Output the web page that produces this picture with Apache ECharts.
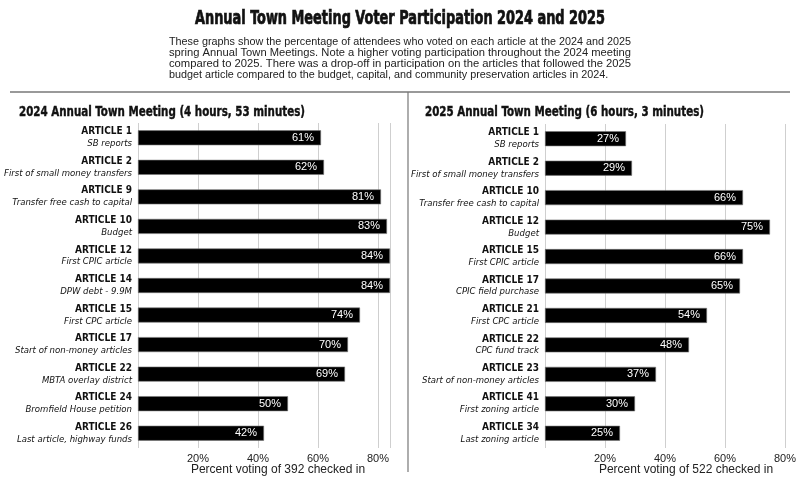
<!DOCTYPE html>
<html>
<head>
<meta charset="utf-8">
<script src="https://cdn.jsdelivr.net/npm/echarts@6/dist/echarts.min.js"></script>
<style>
  html, body { margin: 0; padding: 0; background: #fff; }
  #main { width: 800px; height: 480px; }
</style>
</head>
<body>
<div id="main"></div>
<script>
// 2024 meeting
var articles2024 = ['ARTICLE 1', 'ARTICLE 2', 'ARTICLE 9', 'ARTICLE 10', 'ARTICLE 12', 'ARTICLE 14', 'ARTICLE 15', 'ARTICLE 17', 'ARTICLE 22', 'ARTICLE 24', 'ARTICLE 26'];
var notes2024 = ['SB reports', 'First of small money transfers', 'Transfer free cash to capital', 'Budget', 'First CPIC article', 'DPW debt - 9.9M', 'First CPC article', 'Start of non-money articles', 'MBTA overlay district', 'Bromfield House petition', 'Last article, highway funds'];
var pct2024 = [61, 62, 81, 83, 84, 84, 74, 70, 69, 50, 42];

// 2025 meeting
var articles2025 = ['ARTICLE 1', 'ARTICLE 2', 'ARTICLE 10', 'ARTICLE 12', 'ARTICLE 15', 'ARTICLE 17', 'ARTICLE 21', 'ARTICLE 22', 'ARTICLE 23', 'ARTICLE 41', 'ARTICLE 34'];
var notes2025 = ['SB reports', 'First of small money transfers', 'Transfer free cash to capital', 'Budget', 'First CPIC article', 'CPIC field purchase', 'First CPC article', 'CPC fund track', 'Start of non-money articles', 'First zoning article', 'Last zoning article'];
var pct2025 = [27, 29, 66, 75, 66, 65, 54, 48, 37, 30, 25];

var xTicks = [20, 40, 60, 80];

var narrow = '"DejaVu Sans Condensed", "Liberation Sans Narrow", "Liberation Sans", sans-serif';
var plain = '"Liberation Sans", Arial, sans-serif';

var intro = [
  'These graphs show the percentage of attendees who voted on each article at the 2024 and 2025',
  'spring Annual Town Meetings. Note a higher voting participation throughout the 2024 meeting',
  'compared to 2025. There was a drop-off in participation on the articles that followed the 2025',
  'budget article compared to the budget, capital, and community preservation articles in 2024.'
];

// squeeze a text line to a given width (the original uses a condensed face)
var ctx = document.createElement('canvas').getContext('2d');
function fitText(str, font, x, y, width, opts) {
  ctx.font = font;
  var w = ctx.measureText(str).width;
  opts = opts || {};
  var style = { text: str, font: font, fill: opts.fill || '#111', verticalAlign: 'middle' };
  if (opts.heavy) { style.stroke = style.fill; style.lineWidth = opts.heavy; }
  return { type: 'text', x: x, y: y, scaleX: opts.scale || width / w, style: style };
}

function catAxis(idx, names, notes) {
  return {
    type: 'category',
    gridIndex: idx,
    inverse: true,
    data: names,
    axisLine: { show: false },
    axisTick: { show: false },
    axisLabel: {
      margin: 6,
      align: 'right',
      formatter: function (v, i) { return '{a|' + v + '}\n{b|' + notes[i] + '}'; },
      rich: {
        a: { fontFamily: narrow, fontWeight: 'bold', fontSize: 10, color: '#111', lineHeight: 12, align: 'right' },
        b: { fontFamily: narrow, fontStyle: 'italic', fontSize: 9.5, color: '#111', lineHeight: 12, align: 'right' }
      }
    }
  };
}

function valAxis(idx, max) {
  return {
    type: 'value',
    gridIndex: idx,
    min: 0,
    max: max,
    interval: 20,
    axisLine: { show: false },
    axisTick: { show: false },
    splitLine: { lineStyle: { color: '#cfcfcf', width: 1 } },
    axisLabel: {
      showMinLabel: false,
      showMaxLabel: max % 20 === 0,
      margin: 5,
      fontFamily: plain,
      fontSize: 11,
      color: '#222',
      formatter: function (v) { return xTicks.indexOf(v) >= 0 ? v + '%' : ''; }
    }
  };
}

function barSeries(idx, vals) {
  return {
    type: 'bar',
    xAxisIndex: idx,
    yAxisIndex: idx,
    data: vals,
    barWidth: 15,
    itemStyle: { color: '#000', borderColor: '#777', borderWidth: 0.6 },
    label: {
      show: true,
      position: 'insideRight',
      offset: [-2, 0],
      color: '#fff',
      fontFamily: plain,
      fontSize: 11,
      formatter: '{c}%'
    },
    silent: true
  };
}

var graphics = [
  fitText('Annual Town Meeting Voter Participation 2024 and 2025', 'bold 19px ' + narrow, 195, 19, 410, { heavy: 0.7 }),
  { type: 'line', shape: { x1: 10, y1: 92, x2: 790, y2: 92 }, style: { stroke: '#777', lineWidth: 1.5 } },
  { type: 'line', shape: { x1: 408, y1: 92, x2: 408, y2: 472 }, style: { stroke: '#777', lineWidth: 1.2 } },
  fitText('2024 Annual Town Meeting (4 hours, 53 minutes)', 'bold 14px ' + narrow, 19, 112, 286, { heavy: 0.4 }),
  fitText('2025 Annual Town Meeting (6 hours, 3 minutes)', 'bold 14px ' + narrow, 425, 112, 279, { heavy: 0.4 }),
  { type: 'text', x: 278, y: 470, style: { text: 'Percent voting of 392 checked in', font: '12px ' + plain, fill: '#222', align: 'center', verticalAlign: 'middle' } },
  { type: 'text', x: 686, y: 470, style: { text: 'Percent voting of 522 checked in', font: '12px ' + plain, fill: '#222', align: 'center', verticalAlign: 'middle' } }
];
var introFont = '11px ' + plain;
var firstLine = fitText(intro[0], introFont, 169, 41.5, 462, { fill: '#222' });
intro.forEach(function (line, i) {
  var last = i === intro.length - 1;
  graphics.push(fitText(line, introFont, 169, 41.5 + i * 11.3, 462, { fill: '#222', scale: last ? firstLine.scaleX : null }));
});

var chart = echarts.init(document.getElementById('main'));
chart.setOption({
  backgroundColor: '#fff',
  animation: false,
  grid: [
    { left: 138, right: 410, top: 123, bottom: 32, outerBoundsMode: 'none' },
    { left: 545, right: 15, top: 124, bottom: 32, outerBoundsMode: 'none' }
  ],
  xAxis: [valAxis(0, 84), valAxis(1, 80)],
  yAxis: [catAxis(0, articles2024, notes2024), catAxis(1, articles2025, notes2025)],
  series: [barSeries(0, pct2024), barSeries(1, pct2025)],
  graphic: graphics
});
</script>
</body>
</html>
